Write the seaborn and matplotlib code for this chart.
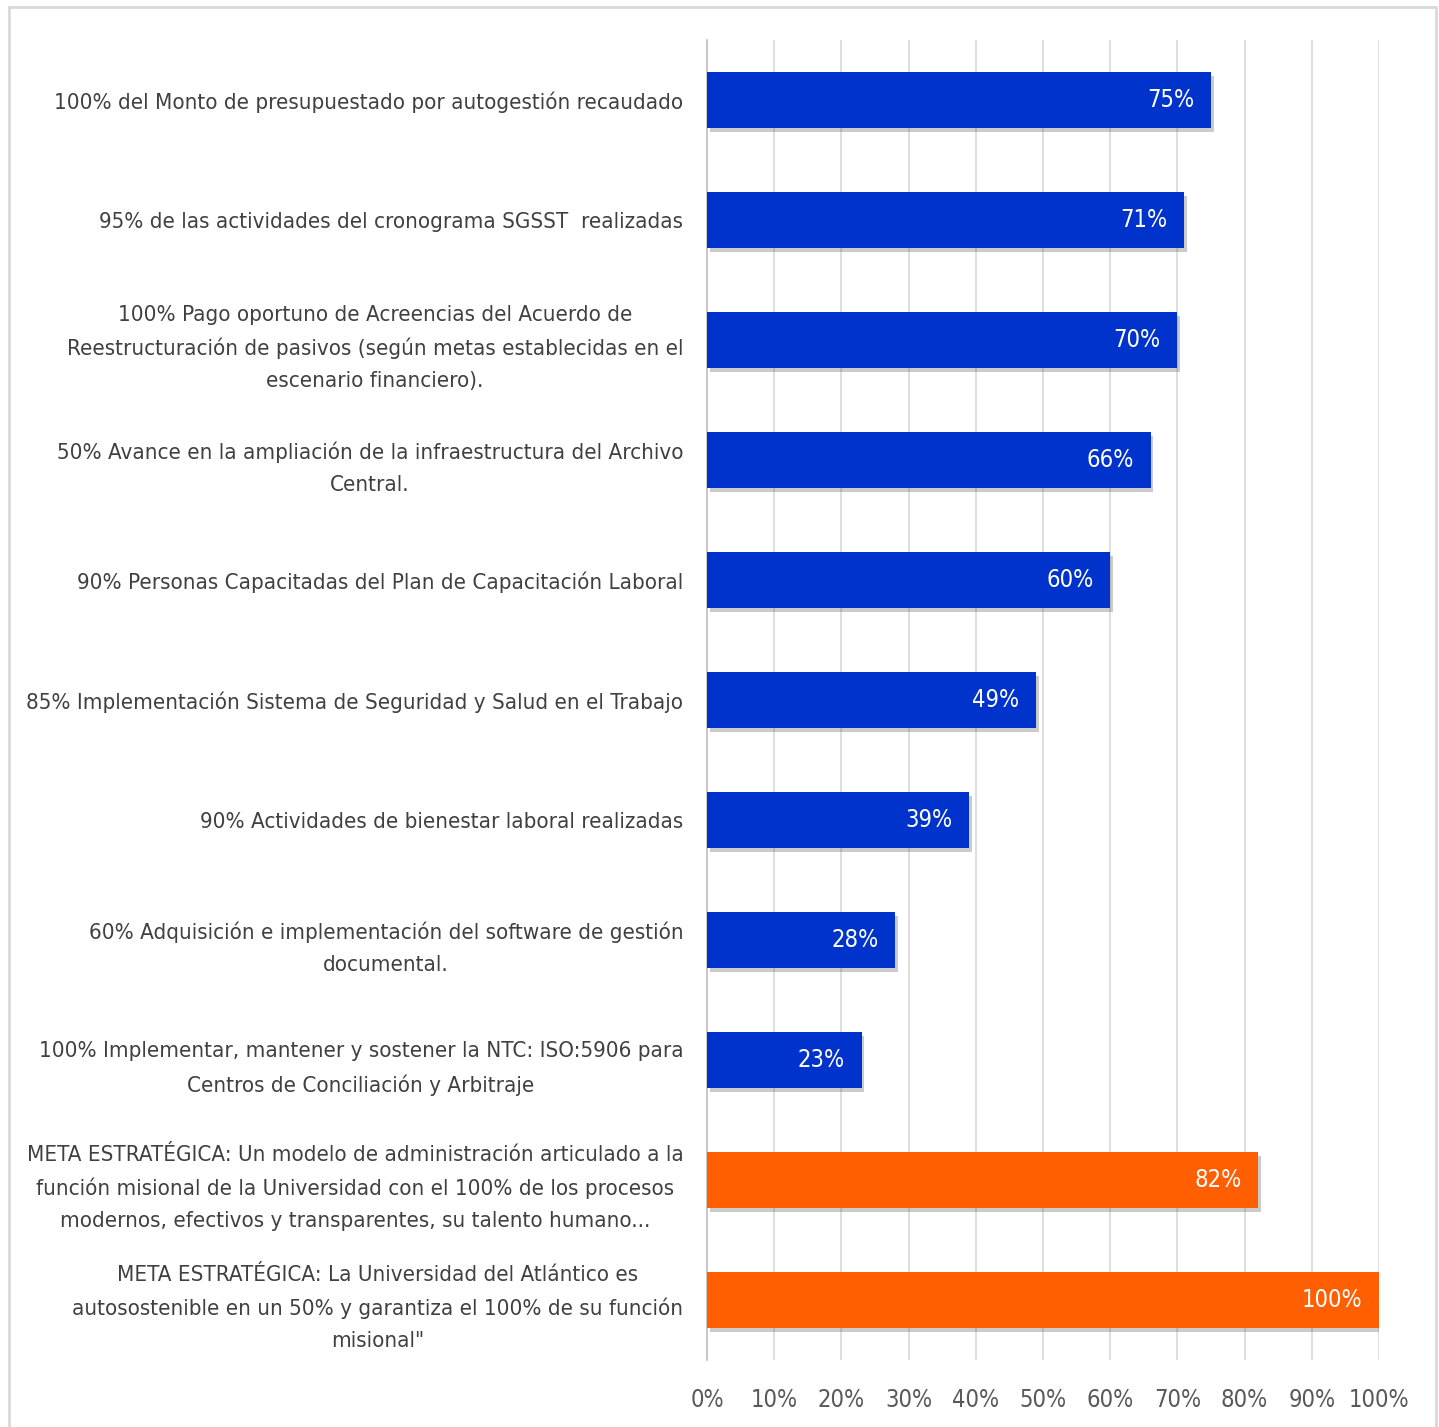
import matplotlib
matplotlib.use("Agg")
import matplotlib.pyplot as plt
import matplotlib.patheffects as pe
from matplotlib.patches import Rectangle
import seaborn as sns
import pandas as pd

categories = [
    "100% del Monto de presupuestado por autogestión recaudado",
    "95% de las actividades del cronograma SGSST  realizadas",
    "100% Pago oportuno de Acreencias del Acuerdo de\nReestructuración de pasivos (según metas establecidas en el\nescenario financiero).",
    "50% Avance en la ampliación de la infraestructura del Archivo\nCentral.",
    "90% Personas Capacitadas del Plan de Capacitación Laboral",
    "85% Implementación Sistema de Seguridad y Salud en el Trabajo",
    "90% Actividades de bienestar laboral realizadas",
    "60% Adquisición e implementación del software de gestión\ndocumental.",
    "100% Implementar, mantener y sostener la NTC: ISO:5906 para\nCentros de Conciliación y Arbitraje",
    "META ESTRATÉGICA: Un modelo de administración articulado a la\nfunción misional de la Universidad con el 100% de los procesos\nmodernos, efectivos y transparentes, su talento humano...",
    "META ESTRATÉGICA: La Universidad del Atlántico es\nautosostenible en un 50% y garantiza el 100% de su función\nmisional\"",
]
values = [75, 71, 70, 66, 60, 49, 39, 28, 23, 82, 100]
kinds = ["meta"] * 9 + ["estrategica"] * 2
x_ticks = [0, 10, 20, 30, 40, 50, 60, 70, 80, 90, 100]

df = pd.DataFrame({"cat": categories, "val": values, "kind": kinds})

sns.set_theme(style="white")
plt.rcParams["font.family"] = ["DejaVu Sans"]
plt.rcParams["font.stretch"] = "condensed"

FS = 16

fig = plt.figure(figsize=(14.39, 14.27), dpi=100)
ax = fig.add_axes([707 / 1439, 1 - 1360 / 1427, (1379 - 707) / 1439, 1320 / 1427])

sns.barplot(data=df, x="val", y="cat", hue="kind", orient="h",
            palette={"meta": "#0033CC", "estrategica": "#FF5F00"}, saturation=1,
            width=0.47, dodge=False, legend=False, ax=ax, zorder=3)

for p in ax.patches:
    p.set_path_effects([pe.SimplePatchShadow(offset=(2, -3), alpha=0.3, shadow_rgbFace="#555555"), pe.Normal()])
    p.set_linewidth(0)

for i, v in enumerate(values):
    ax.annotate(f"{v}%", xy=(v, i), xytext=(-12, 0), textcoords="offset points",
                ha="right", va="center", color="white", fontsize=FS + 1, zorder=5)

ax.set_xlim(0, 100)
ax.set_ylim(len(categories) - 0.5, -0.5)
ax.set_xticks(x_ticks)
ax.set_xticklabels([f"{t}%" for t in x_ticks], color="#595959", fontsize=FS + 1)
ax.xaxis.grid(True, color="#D9D9D9", linewidth=1.2, zorder=0)
ax.set_axisbelow(True)
ax.tick_params(axis="x", length=0, pad=20)
ax.tick_params(axis="y", length=0, pad=17)
for lbl in ax.get_yticklabels():
    lbl.set_fontsize(FS)
    lbl.set_color("#404040")
    lbl.set_multialignment("center")
    lbl.set_linespacing(1.75)
for s in ["top", "right", "bottom"]:
    ax.spines[s].set_visible(False)
ax.spines["left"].set_color("#BFBFBF")
ax.spines["left"].set_linewidth(1.2)
ax.set_xlabel("")
ax.set_ylabel("")

fig.patches.append(Rectangle((9 / 1439, -0.01), (1436 - 9) / 1439, 1 - 7 / 1427 + 0.01,
                             transform=fig.transFigure, fill=False,
                             edgecolor="#D9D9D9", linewidth=2))

fig.savefig("out.png", dpi=100, facecolor="white")
